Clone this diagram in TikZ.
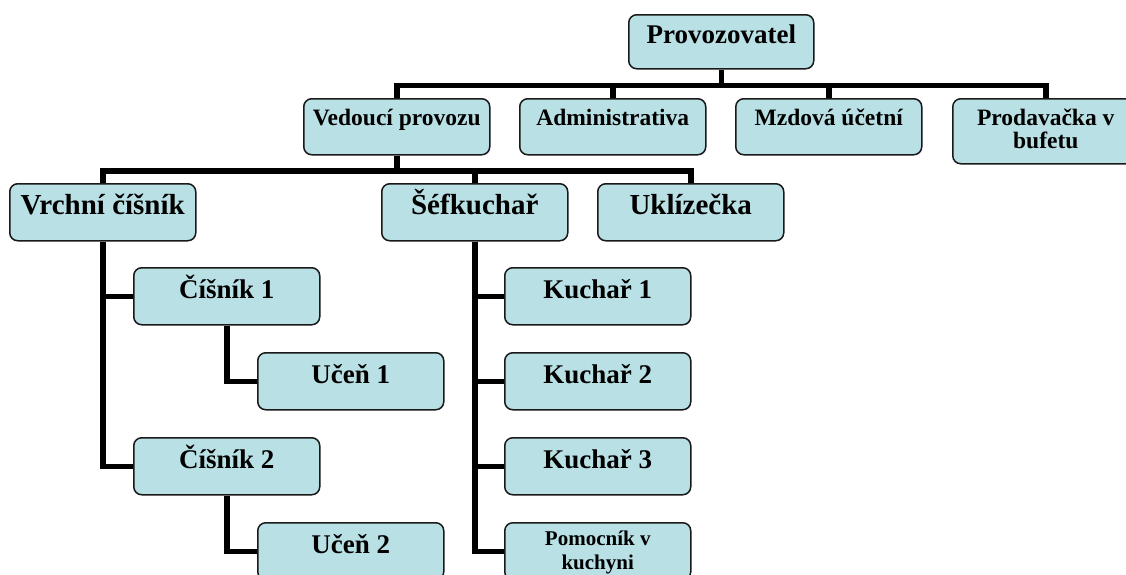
\documentclass[tikz,border=0pt]{standalone}
\usepackage{fontspec}
\setmainfont{Liberation Serif}
\usepackage{tikz}
\definecolor{boxblue}{RGB}{185,224,228}
\tikzstyle{orgbox} = [draw=black!90, fill=boxblue, line width=1.5pt,
    rectangle, rounded corners=8pt, inner sep=0pt, anchor=north west]
\tikzstyle{headbox} = [orgbox, minimum width=185pt, text height=29pt, text depth=25pt,
    font=\bfseries\fontsize{27}{27}\selectfont]
\tikzstyle{staffbox} = [orgbox, minimum width=186pt, text height=27pt, text depth=29pt,
    font=\bfseries\fontsize{23.5}{23.5}\selectfont]
\tikzstyle{leadbox} = [orgbox, minimum width=186pt, text height=31pt, text depth=26pt,
    font=\bfseries\fontsize{29}{29}\selectfont]
\tikzstyle{workbox} = [orgbox, minimum width=186pt, text height=31pt, text depth=26pt,
    font=\bfseries\fontsize{27}{27}\selectfont]
\tikzstyle{link} = [line width=5.5pt]

\begin{document}
\begin{tikzpicture}[x=1pt, y=-1pt]
                \useasboundingbox (0,0) rectangle (1126,574);
                \node[headbox] (prov) at (628,14) {Provozovatel};
                \node[staffbox] (ved) at (303,98) {Vedoucí provozu};
                \node[staffbox] (admin) at (519,98) {Administrativa};
                \node[staffbox] (mzda) at (735,98) {Mzdová účetní};
                \node[staffbox, align=center, text height=50pt, text depth=15pt,
                    font=\bfseries\fontsize{23.5}{23.5}\selectfont] (prod) at (952,98) {Prodavačka v\\bufetu};
                \node[leadbox] (vrchni) at (9,183) {Vrchní číšník};
                \node[leadbox] (sef) at (381,183) {Šéfkuchař};
                \node[leadbox] (ukliz) at (597,183) {Uklízečka};
                \node[workbox] (cisnik1) at (133,267) {Číšník 1};
                \node[workbox] (ucen1) at (257,352) {Učeň 1};
                \node[workbox] (cisnik2) at (133,437) {Číšník 2};
                \node[workbox] (ucen2) at (257,522) {Učeň 2};
                \node[workbox] (kuchar1) at (504,267) {Kuchař 1};
                \node[workbox] (kuchar2) at (504,352) {Kuchař 2};
                \node[workbox] (kuchar3) at (504,437) {Kuchař 3};
                \node[workbox, align=center, text height=47pt, text depth=10pt,
                    font=\bfseries\fontsize{21}{24}\selectfont] (pomoc) at (504,522) {Pomocník v\\kuchyni};
                \draw[link] (prov.south) -- ++(0,16) coordinate (bar1) -| (ved.north)
                    (bar1) -| (admin.north) (bar1) -| (mzda.north) (bar1) -| (prod.north);
                \draw[link] (ved.south) -- ++(0,15.5) coordinate (bar2) -| (vrchni.north)
                    (bar2) -| (sef.north) (bar2) -| (ukliz.north);
                \draw[link] (vrchni.south) |- (cisnik1.west) (vrchni.south) |- (cisnik2.west);
                \draw[link] (cisnik1.south) |- (ucen1.west);
                \draw[link] (cisnik2.south) |- (ucen2.west);
                \draw[link] (sef.south) |- (kuchar1.west) (sef.south) |- (kuchar2.west)
                    (sef.south) |- (kuchar3.west) (sef.south) |- (pomoc.west);
            \end{tikzpicture}
\end{document}
